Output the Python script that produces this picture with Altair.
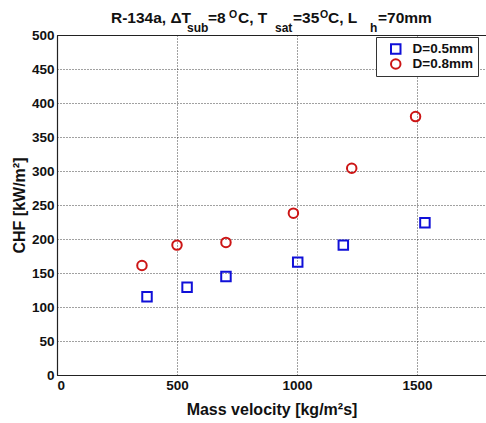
import altair as alt
import pandas as pd

FONT = "Liberation Sans"

# data
g_05 = [375, 542, 704, 1003, 1193, 1533]
chf_05 = [115, 129, 145, 166, 191, 224]
g_08 = [354, 500, 704, 985, 1228, 1494]
chf_08 = [161, 191, 195, 238, 304, 380]
series = ["D=0.5mm", "D=0.8mm"]
x_ticks = [0, 500, 1000, 1500]
y_ticks = list(range(0, 501, 50))

# title pieces: text, left x (px, rel. to plot), baseline y (px, rel. to plot), font size
title_text = ["R-134a, \u0394T", "sub", "=8", "O", "C, T", "sat", "=35", "O", "C, L", "h", "=70mm"]
title_x = [54, 130, 151, 172, 181, 218, 236, 263, 271, 313, 321]
title_y = [-12, -3, -12, -17, -12, -3, -12, -17, -12, -3, -12]
title_size = [15.5, 12, 15.5, 10.5, 15.5, 12, 15.5, 10.5, 15.5, 12, 15.5]

df = pd.DataFrame({
    "G": g_05 + g_08,
    "CHF": chf_05 + chf_08,
    "D": [series[0]] * len(g_05) + [series[1]] * len(g_08),
})

W, H = 429, 340

points = alt.Chart(df).mark_point(filled=False, strokeWidth=2, size=90, opacity=1).encode(
    x=alt.X("G:Q", scale=alt.Scale(domain=[0, 1787.5], nice=False),
            axis=alt.Axis(values=x_ticks, format="d", title="Mass velocity [kg/m\u00b2s]", titlePadding=10)),
    y=alt.Y("CHF:Q", scale=alt.Scale(domain=[0, 500], nice=False),
            axis=alt.Axis(values=y_ticks, format="d", title="CHF [kW/m\u00b2]", titlePadding=4)),
    color=alt.Color("D:N", scale=alt.Scale(domain=series, range=["#1010d8", "#cc1515"]),
                    legend=alt.Legend(title=None, orient="none", legendX=319, legendY=2)),
    shape=alt.Shape("D:N", scale=alt.Scale(domain=series, range=["square", "circle"]),
                    legend=alt.Legend(title=None, orient="none", legendX=319, legendY=2)),
)

layers = [points]
for t, px, py, fs in zip(title_text, title_x, title_y, title_size):
    layers.append(
        alt.Chart(pd.DataFrame({"t": [t]})).mark_text(
            font=FONT, fontWeight="bold", fontSize=fs, align="left", baseline="alphabetic", color="#111"
        ).encode(x=alt.value(px), y=alt.value(py), text="t:N", size=alt.value(fs))
    )

chart = alt.layer(*layers).properties(
    width=W, height=H,
    autosize=alt.AutoSizeParams(type="none"),
    padding={"left": 57, "top": 35, "right": 0, "bottom": 48},
    background="white",
).configure_view(
    stroke="#222", strokeWidth=1
).configure_axis(
    labelFont=FONT, labelFontWeight="bold", labelFontSize=13.5, labelColor="#111",
    titleFont=FONT, titleFontWeight="bold", titleFontSize=16, titleColor="#111",
    domainColor="#222", domainWidth=1.2,
    grid=True, gridColor="#222", gridDash=[1, 2], gridWidth=1, gridOpacity=0.85,
    tickSize=0, ticks=False, labelPadding=3,
).configure_legend(
    labelFont=FONT, labelFontWeight="bold", labelFontSize=13.5, labelColor="#111",
    fillColor="white", strokeColor="#333", strokeWidth=1,
    padding=5, symbolOffset=8, labelOffset=10, rowPadding=1, clipHeight=14,
    symbolStrokeWidth=2, symbolSize=90, symbolFillColor="transparent",
)

chart.save("out.html", embed_options={"renderer": "svg", "actions": False})
